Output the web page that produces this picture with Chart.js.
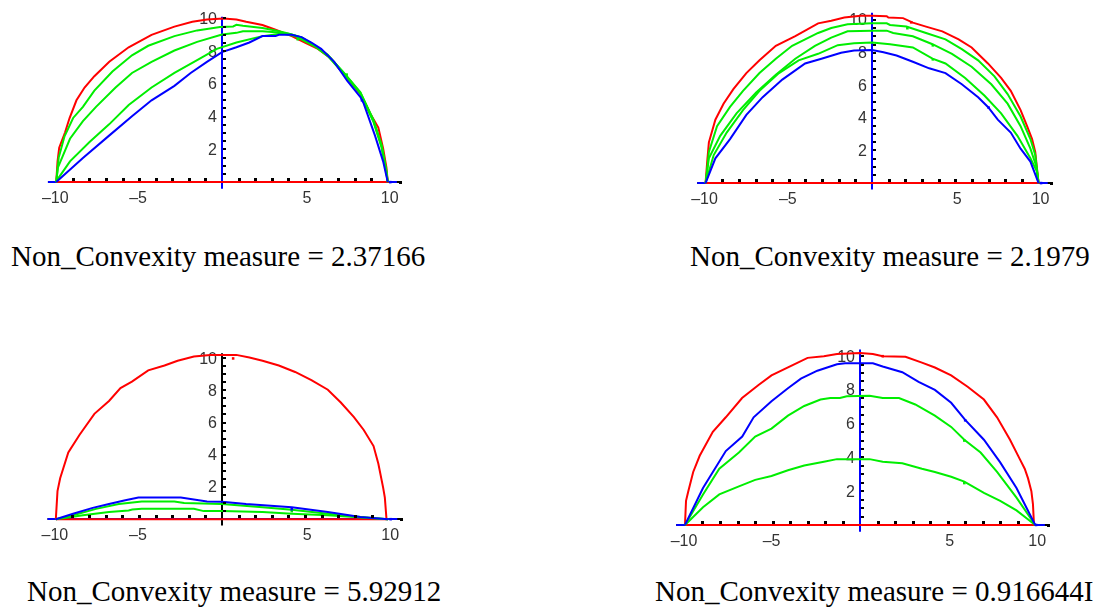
<!DOCTYPE html>
<html><head><meta charset="utf-8">
<script src="https://cdn.jsdelivr.net/npm/chart.js@4.4.1/dist/chart.umd.min.js"></script>
<style>
html,body{margin:0;padding:0;background:#fff;}
body{width:1096px;height:615px;position:relative;overflow:hidden;}
canvas{position:absolute;}
.cap{position:absolute;font-family:"Liberation Serif","Times New Roman",serif;font-size:29px;line-height:29px;white-space:nowrap;color:#000;}
</style></head><body>
<canvas id="c1" width="384" height="215" style="left:30px;top:0px"></canvas>
<canvas id="c2" width="390" height="215" style="left:680px;top:0px"></canvas>
<canvas id="c3" width="384" height="225" style="left:30px;top:330px"></canvas>
<canvas id="c4" width="400" height="225" style="left:665px;top:330px"></canvas>
<div class="cap" id="t1" style="left:11px;top:242px"></div>
<div class="cap" id="t2" style="left:690px;top:242px"></div>
<div class="cap" id="t3" style="left:27px;top:577px"></div>
<div class="cap" id="t4" style="left:655px;top:577px"></div>
<script>
// ---------- data ----------
const captions = ["Non_Convexity measure = 2.37166","Non_Convexity measure = 2.1979","Non_Convexity measure = 5.92912","Non_Convexity measure = 0.916644I"];
const xTickValues = [-10,-5,5,10];
const xTickLabels = ["\u201310","\u20135","5","10"];
const yTickValues = [2,4,6,8,10];
const yTickLabels = ["2","4","6","8","10"];

// Panel 1
const p1Red = [[-10,0],[-9.92,1.27],[-9.82,2.1],[-9.47,3.03],[-9.2,3.9],[-8.78,5.0],[-8.29,5.78],[-7.7,6.47],[-6.8,7.35],[-5.63,8.24],[-4.25,9.0],[-2.87,9.5],[-1.79,9.8],[-0.9,9.94],[0.08,10.0],[0.87,9.94],[1.46,9.8],[2.44,9.6],[3.23,9.31],[4.21,8.92],[5.0,8.53],[5.79,8.14],[6.57,7.55],[7.36,6.57],[8.35,5.39],[8.94,4.2],[9.43,3.33],[9.72,2.06],[9.92,0.88],[10,0],[-10,0]];
const p1Green1 = [[-10,0],[-9.85,1.5],[-9.5,2.8],[-8.98,3.92],[-8.39,4.6],[-7.7,5.59],[-6.61,6.76],[-5.43,7.75],[-4.45,8.33],[-2.87,8.92],[-1.5,9.27],[-0.12,9.47],[0.67,9.51],[0.87,9.61],[1.26,9.55],[2.44,9.41],[3.23,9.27],[4.0,9.08],[4.8,8.82],[5.59,8.33],[6.38,7.75],[7.36,6.67],[8.35,5.49],[9.13,3.82],[9.63,2.25],[9.92,0.69],[10,0]];
const p1Green2 = [[-10,0],[-9.9,0.88],[-9.17,2.65],[-8.39,3.73],[-7.6,4.6],[-6.42,5.78],[-5.43,6.67],[-4.25,7.35],[-2.87,8.04],[-1.5,8.57],[0,9.02],[0.87,9.12],[1.26,9.22],[2.44,9.22],[3.62,9.12],[4.2,9.02],[4.8,8.84],[5.59,8.35],[6.38,7.78],[7.36,6.65],[8.35,5.45],[9.13,3.75],[9.63,2.2],[9.92,0.6],[10,0]];
const p1Green3 = [[-10,0],[-9.9,0.2],[-9.17,1.27],[-7.99,2.45],[-6.81,3.53],[-5.63,4.71],[-4.25,5.78],[-2.87,6.67],[-1.5,7.45],[-0.31,8.14],[0.87,8.53],[2.44,8.92],[3.62,9.08],[4.41,8.92],[5.59,8.3],[6.38,7.7],[7.36,6.6],[8.35,5.4],[9.13,3.7],[9.63,2.1],[9.92,0.5],[10,0]];
const p1Blue = [[-10,0],[-8.39,1.47],[-6.81,2.84],[-5.43,4.02],[-4.25,5.0],[-2.87,5.88],[-1.89,6.67],[-0.91,7.35],[0,7.94],[0.87,8.24],[1.65,8.53],[2.44,8.92],[3.23,8.92],[3.43,9.0],[4.21,9.0],[4.8,8.86],[5.39,8.53],[5.98,8.14],[6.77,7.35],[7.56,6.18],[8.35,5.2],[8.55,4.8],[9.23,2.84],[9.72,1.27],[10,0]];
const p1Marks = {green:[[4.57,8.73],[7.52,6.57]], blue:[[8.44,5.0],[10.15,0]], red:[]};

// Panel 2
const p2Red = [[-10,0],[-9.9,1.32],[-9.8,2.5],[-9.41,3.89],[-8.92,4.87],[-8.33,5.76],[-7.55,6.75],[-6.76,7.53],[-5.78,8.42],[-4.61,9.01],[-3.24,9.8],[-2.45,9.96],[-1.67,10.16],[-0.69,10.26],[0,10.26],[0.88,10.24],[0.98,10.16],[1.86,10.12],[2.45,9.84],[3.24,9.6],[4.22,9.31],[5.2,8.82],[5.98,8.32],[6.96,7.34],[7.75,6.45],[8.33,5.66],[8.92,4.48],[9.31,3.49],[9.61,2.7],[9.8,1.91],[9.9,0.93],[10,0],[-10,0]];
const p2Green1 = [[-10,0],[-9.95,0.33],[-9.8,1.91],[-9.31,3.49],[-8.53,4.67],[-7.75,5.66],[-6.76,6.75],[-5.78,7.63],[-4.8,8.42],[-4.02,8.82],[-3.24,9.21],[-2.45,9.51],[-1.47,9.74],[0,9.8],[0.88,9.8],[1.08,9.7],[2.06,9.6],[3.24,9.21],[4.41,8.82],[5.39,8.22],[6.37,7.53],[7.35,6.55],[8.14,5.46],[8.92,4.08],[9.51,2.7],[9.8,1.72],[10,0]];
const p2Green2 = [[-10,0],[-9.8,1.52],[-9.12,2.9],[-8.14,4.28],[-6.96,5.56],[-5.78,6.65],[-4.61,7.63],[-3.43,8.42],[-2.45,8.92],[-1.47,9.31],[0,9.35],[0.88,9.35],[1.27,9.21],[2.45,9.01],[3.63,8.52],[4.8,7.93],[5.98,7.14],[7.16,6.06],[8.14,4.87],[8.92,3.49],[9.51,2.11],[9.86,1.03],[10,0]];
const p2Green3 = [[-10,0],[-9.51,1.72],[-8.73,3.1],[-7.75,4.48],[-6.76,5.66],[-5.59,6.75],[-4.41,7.53],[-3.24,7.93],[-2.06,8.46],[-1.08,8.58],[0,8.62],[1.08,8.52],[2.45,8.32],[3.63,7.63],[4.41,7.34],[5.59,6.45],[6.76,5.36],[7.75,4.28],[8.73,2.9],[9.51,1.52],[9.9,0.73],[10,0]];
const p2Blue = [[-10,0],[-9.41,1.52],[-8.53,2.7],[-7.55,4.18],[-6.57,5.27],[-5.39,6.35],[-4.02,7.34],[-3.04,7.63],[-1.86,7.99],[-1.08,8.13],[0,8.17],[0.69,8.03],[1.47,7.83],[2.45,7.44],[3.43,7.04],[4.41,6.75],[5.39,6.06],[6.37,5.27],[6.96,4.67],[7.55,3.89],[8.33,3.1],[8.92,2.11],[9.51,1.32],[10,0]];
const p2Marks = {red:[[2.35,9.86]], green:[[2.12,9.5],[3.65,8.45],[3.65,7.59]], blue:[[7.0,4.63],[10.15,0]]};

// Panel 3
const p3Red = [[-10,0],[-9.9,1.74],[-9.74,2.54],[-9.25,4.14],[-8.57,5.24],[-7.68,6.54],[-6.8,7.34],[-6.11,8.14],[-5.42,8.54],[-4.44,9.24],[-3.46,9.54],[-2.67,9.84],[-1.69,10.1],[-0.71,10.2],[0,10.2],[0.86,10.2],[1.65,10.04],[2.44,9.84],[3.42,9.54],[4.4,9.14],[5.38,8.64],[6.37,8.04],[7.15,7.24],[7.94,6.34],[8.53,5.54],[9.12,4.54],[9.41,3.44],[9.7,1.94],[9.8,1.34],[9.9,0],[-10,0]];
const p3Green1 = [[-10,0],[-8.96,0.24],[-7.58,0.64],[-6.21,0.94],[-4.83,1.1],[-2.87,1.1],[-2.28,1.0],[0,0.94],[2.44,0.74],[4.2,0.58],[6.37,0.34],[8.33,0.14],[10,0]];
const p3Green2 = [[-10,0],[-8.37,0.24],[-6.8,0.44],[-5.62,0.54],[-5.4,0.6],[-4.83,0.64],[-1.69,0.64],[-1.1,0.5],[0,0.5],[2.44,0.44],[4.2,0.34],[6.37,0.24],[10,0]];
const p3Blue = [[-10,0],[-8.96,0.34],[-7.78,0.7],[-6.8,0.94],[-5.82,1.18],[-5.03,1.34],[-3.85,1.34],[-2.48,1.34],[-0.9,1.1],[0,1.08],[1.45,0.94],[4.2,0.74],[6.37,0.44],[8.33,0.14],[10,0]];
const p3Marks = {red:[[0.67,9.98]], green:[[4.2,0.5]], blue:[[4.2,0.62],[10.15,0]]};

// Panel 4
const p4Red = [[-10,0],[-9.94,1.43],[-9.81,2.0],[-9.53,3.14],[-9.16,4.1],[-8.41,5.52],[-7.67,6.38],[-6.74,7.52],[-5.8,8.29],[-5.06,8.86],[-3.94,9.43],[-3.0,9.9],[-2.07,10.0],[-1.32,10.13],[0,10.19],[0.73,10.13],[1.29,10.0],[2.59,9.96],[3.53,9.62],[4.27,9.33],[5.2,8.86],[6.14,8.19],[7.07,7.43],[7.82,6.38],[8.56,5.05],[9.12,3.9],[9.4,3.33],[9.59,2.76],[9.78,2.0],[9.87,1.24],[9.93,0],[-10,0]];
const p4Blue = [[-10,0],[-8.97,2.19],[-7.67,4.38],[-6.73,5.24],[-6.08,6.38],[-5.06,7.33],[-4.12,8.1],[-3.38,8.67],[-2.44,9.14],[-1.32,9.52],[-0.86,9.58],[0.73,9.58],[1.29,9.39],[2.41,9.05],[3.34,8.48],[4.27,8.0],[5.2,7.24],[6.0,6.23],[7.07,5.05],[8.0,3.71],[8.93,2.19],[10,0]];
const p4Green1 = [[-10,0],[-8.97,1.81],[-8.04,3.33],[-6.92,4.29],[-5.99,5.24],[-5.06,5.71],[-4.12,6.48],[-3.19,7.05],[-2.26,7.43],[-1.7,7.52],[-1.15,7.52],[-0.76,7.62],[0.54,7.66],[1.29,7.52],[2.22,7.52],[3.15,7.14],[4.27,6.48],[5.2,5.81],[5.95,5.05],[6.88,4.29],[7.82,3.14],[8.93,1.62],[10,0]];
const p4Green2 = [[-10,0],[-8.97,1.05],[-8.04,1.81],[-6.92,2.29],[-5.99,2.67],[-5.06,2.9],[-4.12,3.24],[-3.19,3.52],[-2.07,3.75],[-1.32,3.9],[0.54,3.9],[1.29,3.75],[2.41,3.66],[3.53,3.33],[4.27,3.14],[5.2,2.86],[5.95,2.57],[7.07,1.9],[8.0,1.43],[8.93,0.86],[10,0]];
const p4Marks = {red:[[1.29,10.0]], green:[[5.95,5.0],[5.95,2.48]], blue:[[6.0,6.2],[10.05,0]]};

// ---------- layout (pixel mapping of each panel) ----------
const panels = [
  {id:"c1", left:30, top:0, w:384, h:215, x0:222, sx:16.93, y0:185, sy:17, yAxisColor:"#0000ff", yTop:10.1,
   red:p1Red, greens:[p1Green1,p1Green2,p1Green3], blue:p1Blue, marks:p1Marks},
  {id:"c2", left:680, top:0, w:390, h:215, x0:872, sx:17, y0:186, sy:16.93, yAxisColor:"#0000ff", yTop:10.45,
   red:p2Red, greens:[p2Green1,p2Green2,p2Green3], blue:p2Blue, marks:p2Marks},
  {id:"c3", left:30, top:330, w:384, h:225, x0:222, sx:16.97, y0:522, sy:16.7, yAxisColor:"#000000", yTop:10.3,
   red:p3Red, greens:[p3Green1,p3Green2], blue:p3Blue, marks:p3Marks},
  {id:"c4", left:665, top:330, w:400, h:225, x0:860, sx:17.87, y0:528, sy:17.5, yAxisColor:"#0000ff", yTop:10.4,
   red:p4Red, greens:[p4Green1,p4Green2], blue:p4Blue, marks:p4Marks}
];

const RED = "#ff0000", GREEN = "#00ee00", BLUE = "#0000ff";

function lineDs(pts, color){
  return {data: pts.map(p=>({x:p[0], y:p[1]})), borderColor: color, backgroundColor: color,
    borderWidth: 2, pointRadius: 0, showLine: true, fill: false, tension: 0, borderJoinStyle: "miter"};
}
function markDs(pts, color){
  return {data: pts.map(p=>({x:p[0], y:p[1]})), showLine: false, pointStyle: "rect",
    pointRadius: 1.8, backgroundColor: color, borderWidth: 0};
}

captions.forEach((c,i)=>{ document.getElementById("t"+(i+1)).textContent = c; });

panels.forEach(P=>{
  const xmin = (P.left - P.x0)/P.sx, xmax = (P.left + P.w - P.x0)/P.sx;
  const ymax = (P.y0 - P.top)/P.sy, ymin = (P.y0 - P.top - P.h)/P.sy;
  const axesPlugin = {
    id: "mathAxes",
    beforeDatasetsDraw(chart){
      const ctx = chart.ctx, xs = chart.scales.x, ys = chart.scales.y;
      const zx = Math.round(xs.getPixelForValue(0)), zy = Math.round(ys.getPixelForValue(0));
      ctx.save();
      ctx.lineWidth = 2; ctx.strokeStyle = "#000";
      ctx.beginPath(); ctx.moveTo(xs.getPixelForValue(-10.5), zy); ctx.lineTo(xs.getPixelForValue(10.75), zy); ctx.stroke();
      ctx.strokeStyle = BLUE;
      ctx.beginPath(); ctx.moveTo(xs.getPixelForValue(-10.5), zy); ctx.lineTo(xs.getPixelForValue(10.55), zy); ctx.stroke();
      ctx.strokeStyle = P.yAxisColor;
      ctx.beginPath(); ctx.moveTo(zx, ys.getPixelForValue(-0.4)); ctx.lineTo(zx, ys.getPixelForValue(P.yTop)); ctx.stroke();
      ctx.fillStyle = "#333";
      ctx.font = "16px 'Liberation Sans', Arial, sans-serif";
      ctx.textAlign = "center"; ctx.textBaseline = "alphabetic";
      xTickValues.forEach((v,i)=>{ ctx.fillText(xTickLabels[i], xs.getPixelForValue(v) + (v>0?2:-1), zy + 21); });
      ctx.textAlign = "right"; ctx.textBaseline = "middle";
      yTickValues.forEach((v,i)=>{ ctx.fillText(yTickLabels[i], zx - 5, ys.getPixelForValue(v) + 1); });
      ctx.restore();
    },
    afterDatasetsDraw(chart){
      const ctx = chart.ctx, xs = chart.scales.x, ys = chart.scales.y;
      const zx = Math.round(xs.getPixelForValue(0)), zy = Math.round(ys.getPixelForValue(0));
      ctx.save();
      ctx.fillStyle = "#000";
      for(let v=-9; v<=9; v++){ if(v===0) continue; ctx.fillRect(Math.round(xs.getPixelForValue(v))-1, zy-4, 3, 3); }
      for(let k=1; k<=20; k++){ const v = k*0.5; ctx.fillRect(zx+1, Math.round(ys.getPixelForValue(v))-1, 3, 2); }
      ctx.fillRect(Math.round(xs.getPixelForValue(10.75))-1, zy-1, 3, 3);
      ctx.restore();
    }
  };
  const datasets = [];
  P.marks.blue.length && datasets.push(markDs(P.marks.blue, BLUE));
  P.marks.green.length && datasets.push(markDs(P.marks.green, GREEN));
  P.marks.red.length && datasets.push(markDs(P.marks.red, RED));
  datasets.push(lineDs(P.blue, BLUE));
  P.greens.forEach(g=>datasets.push(lineDs(g, GREEN)));
  datasets.push(lineDs(P.red, RED));
  new Chart(document.getElementById(P.id), {
    type: "scatter",
    data: {datasets},
    options: {
      responsive: false, animation: false, devicePixelRatio: 1, events: [],
      layout: {padding: 0},
      scales: {
        x: {type: "linear", min: xmin, max: xmax, display: false},
        y: {type: "linear", min: ymin, max: ymax, display: false}
      },
      plugins: {legend: {display: false}, tooltip: {enabled: false}},
      elements: {line: {capBezierPoints: false}}
    },
    plugins: [axesPlugin]
  });
});
</script>
</body></html>
